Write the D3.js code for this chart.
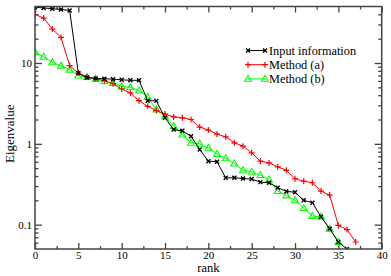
<!DOCTYPE html>
<html>
<head>
<meta charset="utf-8">
<script src="https://cdn.jsdelivr.net/npm/d3@7"></script>
<style>
  body { margin: 0; background: #fff; }
  text { font-family: "Liberation Serif", "DejaVu Serif", serif; }
</style>
</head>
<body>
<svg id="chart" width="391" height="276"></svg>
<script>
// eigenvalues, index = rank
const inputInfo = [49, 48, 47, 46, 44.6, 7.5, 6.6, 6.45, 6.4, 6.3, 6.2, 6.1, 6.1, 3.42, 3.4,
    2.1, 1.5, 1.45, 1.24, 0.85, 0.61, 0.6, 0.38, 0.38, 0.373, 0.366, 0.336, 0.33, 0.287,
    0.258, 0.252, 0.2, 0.187, 0.125, 0.089, 0.061, 0.05];
const methodA = [39.8, 36, 26.3, 20.7, 9.3, 7.5, 6.7, 6.4, 6.05, 5.55, 4.77, 4.26, 3.42, 2.91,
    2.58, 2.34, 2.15, 2.1, 2.0, 1.61, 1.48, 1.32, 1.22, 1.03, 0.935, 0.774, 0.61, 0.58, 0.52,
    0.47, 0.37, 0.345, 0.33, 0.26, 0.232, 0.098, 0.087, 0.061];
const methodB = [13.7, 11.9, 10.2, 9.25, 8.26, 6.97, 6.7, 6.35, 5.93, 5.66, 5.14, 5.0, 4.55, 3.8,
    2.65, 2.19, 1.65, 1.3, 1.03, 1.0, 0.89, 0.75, 0.66, 0.57, 0.47, 0.45, 0.41, 0.36, 0.26,
    0.23, 0.2, 0.16, 0.128, 0.125, 0.089, 0.061, 0.02];
const seriesNames = ['Input information', 'Method (a)', 'Method (b)'];
const xTicks = [0, 5, 10, 15, 20, 25, 30, 35, 40];
const yTicks = [0.1, 1, 10];

const margin = { top: 6.5, right: 9.3, bottom: 27, left: 35 };
const width = 391 - margin.left - margin.right;
const height = 276 - margin.top - margin.bottom;

const svg = d3.select('#chart');
const plot = svg.append('g')
    .attr('transform', 'translate(' + margin.left + ',' + margin.top + ')');

const x = d3.scaleLinear().domain([0, 40]).range([0, width]);
const y = d3.scaleLog().domain([0.05, 50]).range([height, 0]);

// minor ticks
let xMinor = d3.range(0, 40.01, 2.5).filter(d => d % 5 !== 0);
let yMinor = [];
[0.01, 0.1, 1, 10].forEach(dec => {
    for (let m = 2; m <= 9; m++) {
        let v = dec * m;
        if (v > 0.05 && v < 50 && v !== 1 && v !== 10) yMinor.push(v);
    }
});

function styleAxis(g) {
    g.select('.domain').remove();
    g.selectAll('line').attr('stroke', '#444').attr('stroke-width', 1.3);
    g.selectAll('text').attr('font-size', 11).attr('fill', '#000');
}

// bottom
plot.append('g').attr('transform', 'translate(0,' + height + ')')
    .call(d3.axisBottom(x).tickValues(xTicks).tickSize(-6).tickPadding(2.5).tickFormat(d3.format('d')))
    .call(styleAxis);
plot.append('g').attr('transform', 'translate(0,' + height + ')')
    .call(d3.axisBottom(x).tickValues(xMinor).tickSize(-3).tickFormat(''))
    .call(styleAxis);
// top
plot.append('g')
    .call(d3.axisTop(x).tickValues(xTicks).tickSize(-6).tickFormat(''))
    .call(styleAxis);
plot.append('g')
    .call(d3.axisTop(x).tickValues(xMinor).tickSize(-3).tickFormat(''))
    .call(styleAxis);
// left
plot.append('g')
    .call(d3.axisLeft(y).tickValues(yTicks).tickSize(-7).tickPadding(3).tickFormat(d => String(d)))
    .call(styleAxis);
plot.append('g')
    .call(d3.axisLeft(y).tickValues(yMinor).tickSize(-3.5).tickFormat(''))
    .call(styleAxis);
// right
plot.append('g').attr('transform', 'translate(' + width + ',0)')
    .call(d3.axisRight(y).tickValues(yTicks).tickSize(-7).tickFormat(''))
    .call(styleAxis);
plot.append('g').attr('transform', 'translate(' + width + ',0)')
    .call(d3.axisRight(y).tickValues(yMinor).tickSize(-3.5).tickFormat(''))
    .call(styleAxis);

plot.append('defs').append('clipPath').attr('id', 'clip')
    .append('rect').attr('width', width).attr('height', height);

const data = [
    { name: seriesNames[0], values: inputInfo, color: '#000000', marker: 'x' },
    { name: seriesNames[1], values: methodA, color: '#ff0000', marker: 'plus' },
    { name: seriesNames[2], values: methodB, color: '#00ff00', marker: 'tri' }
];

const line = d3.line()
    .x((d, i) => x(i))
    .y(d => y(d));

function drawMarker(g, type, color) {
    if (type === 'x') {
        g.append('path').attr('d', 'M-2,-2L2,2M-2,2L2,-2')
            .attr('stroke', color).attr('stroke-width', 1.4).attr('fill', 'none');
    } else if (type === 'plus') {
        g.append('path').attr('d', 'M-3,0L3,0M0,-3L0,3')
            .attr('stroke', color).attr('stroke-width', 1.2).attr('fill', 'none');
    } else {
        g.append('path').attr('d', 'M0,-3.6L3.4,2.4L-3.4,2.4Z')
            .attr('stroke', color).attr('stroke-width', 1.1).attr('fill', 'none');
    }
}

// draw b first, then a, then input on top
const layer = plot.append('g').attr('clip-path', 'url(#clip)');
[data[2], data[1], data[0]].forEach(s => {
    layer.append('path')
        .datum(s.values)
        .attr('fill', 'none')
        .attr('stroke', s.color)
        .attr('stroke-width', 1)
        .attr('d', line);
    layer.selectAll(null)
        .data(s.values)
        .join('g')
        .attr('transform', (d, i) => 'translate(' + x(i) + ',' + y(d) + ')')
        .each(function () { drawMarker(d3.select(this), s.marker, s.color); });
});

// frame
plot.append('rect')
    .attr('width', width).attr('height', height)
    .attr('fill', 'none').attr('stroke', '#444').attr('stroke-width', 1.5);

// legend
const legend = plot.append('g').attr('transform', 'translate(' + (248 - margin.left) + ',' + (50.5 - margin.top) + ')');
data.forEach((s, i) => {
    let g = legend.append('g').attr('transform', 'translate(0,' + (i * 14.2) + ')');
    g.append('line').attr('x1', 0).attr('x2', 17).attr('y1', 0).attr('y2', 0)
        .attr('stroke', s.color).attr('stroke-width', 1);
    [0, 17].forEach(px => {
        let m = g.append('g').attr('transform', 'translate(' + px + ',0)');
        drawMarker(m, s.marker, s.color);
    });
    g.append('text').attr('x', 21).attr('y', 4.3)
        .attr('font-size', 12.3).text(s.name);
});

// axis labels
svg.append('text')
    .attr('transform', 'translate(' + (margin.left + width / 2) + ',' + 271.5 + ')')
    .style('text-anchor', 'middle')
    .attr('font-size', 12.5)
    .text('rank');
svg.append('text')
    .attr('transform', 'translate(14,' + (margin.top + height / 2 + 6) + ') rotate(-90)')
    .style('text-anchor', 'middle')
    .attr('font-size', 13)
    .text('Eigenvalue');
</script>
</body>
</html>
